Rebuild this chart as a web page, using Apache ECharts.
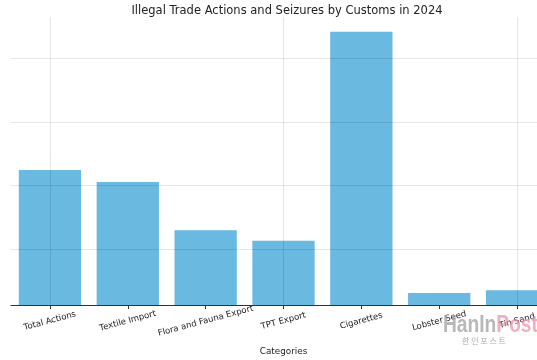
<!DOCTYPE html>
<html>
<head>
<meta charset="utf-8">
<script src="https://cdn.jsdelivr.net/npm/echarts@6/dist/echarts.min.js"></script>
<style>html,body{margin:0;padding:0;background:#fff;overflow:hidden}#c{width:560px;height:360px}</style>
</head>
<body>
<div id="c"></div>
<script>
const categories = ['Total Actions', 'Textile Import', 'Flora and Fauna Export', 'TPT Export', 'Cigarettes', 'Lobster Seed', 'Tin Sand'];
const values = [17660, 11430, 1990, 1365, 2636000, 206, 227];
const yMin = 133;
const yMax = 4487000;
const titleText = 'Illegal Trade Actions and Seizures by Customs in 2024';
const xName = 'Categories';

const chart = echarts.init(document.getElementById('c'), null, {renderer: 'canvas'});
const FONT = 'DejaVu Sans';
chart.setOption({
  animation: false,
  backgroundColor: '#ffffff',
  title: {
    text: titleText, left: 282, top: 0, textAlign: 'center',
    textStyle: {fontFamily: FONT, fontSize: 11.5, fontWeight: 'normal', color: '#222'}
  },
  grid: {left: 11, top: 17, width: 545, height: 288, containLabel: false, outerBoundsMode: 'none'},
  xAxis: [{
    type: 'category', data: categories, boundaryGap: true,
    axisLine: {show: true, lineStyle: {color: '#333', width: 1}},
    axisTick: {show: true, alignWithLabel: true, length: 4, lineStyle: {color: '#333'}},
    axisLabel: {interval: 0, rotate: 15, align: 'center', verticalAlign: 'middle', margin: 16,
      overflow: 'none', width: 300, hideOverlap: false,
      fontFamily: FONT, fontSize: 8.5, color: '#222'},
    splitLine: {show: false},
    name: xName, nameLocation: 'middle', nameGap: 42,
    nameTextStyle: {fontFamily: FONT, fontSize: 8.8, color: '#222'}
  }, {
    type: 'category', data: categories, boundaryGap: true, position: 'bottom', z: 5,
    axisLine: {show: false},
    axisTick: {show: true, inside: true, alignWithLabel: true, length: 288,
      lineStyle: {color: 'rgba(0,0,0,0.10)', width: 1}},
    axisLabel: {show: false},
    splitLine: {show: false}
  }],
  yAxis: {
    type: 'log', min: yMin, max: yMax, logBase: 10, z: 5,
    axisLine: {show: false}, axisTick: {show: false}, axisLabel: {show: false},
    splitLine: {show: true, showMinLine: false, showMaxLine: false,
      lineStyle: {color: 'rgba(0,0,0,0.10)', width: 1}}
  },
  series: [{
    type: 'bar', data: values, xAxisIndex: 0, barCategoryGap: '20%',
    itemStyle: {color: '#69b9e0'}
  }],
  graphic: [
    {type: 'text', x: 443, y: 313, scaleX: 0.8, z: 100, style: {
      text: '{a|HanIn}{b|Post}',
      rich: {
        a: {fontFamily: 'Liberation Sans', fontWeight: 'bold', fontSize: 24, fill: 'rgba(160,160,160,0.75)'},
        b: {fontFamily: 'Liberation Sans', fontWeight: 'bold', fontSize: 24, fill: 'rgba(235,140,165,0.7)'}
      }}},
    {type: 'text', x: 462, y: 337, z: 100, style: {text: '한 인 포 스 트', fontFamily: 'Noto Sans CJK KR', fontSize: 8, fill: 'rgba(150,150,150,0.8)'}}
  ]
});
</script>
</body>
</html>
